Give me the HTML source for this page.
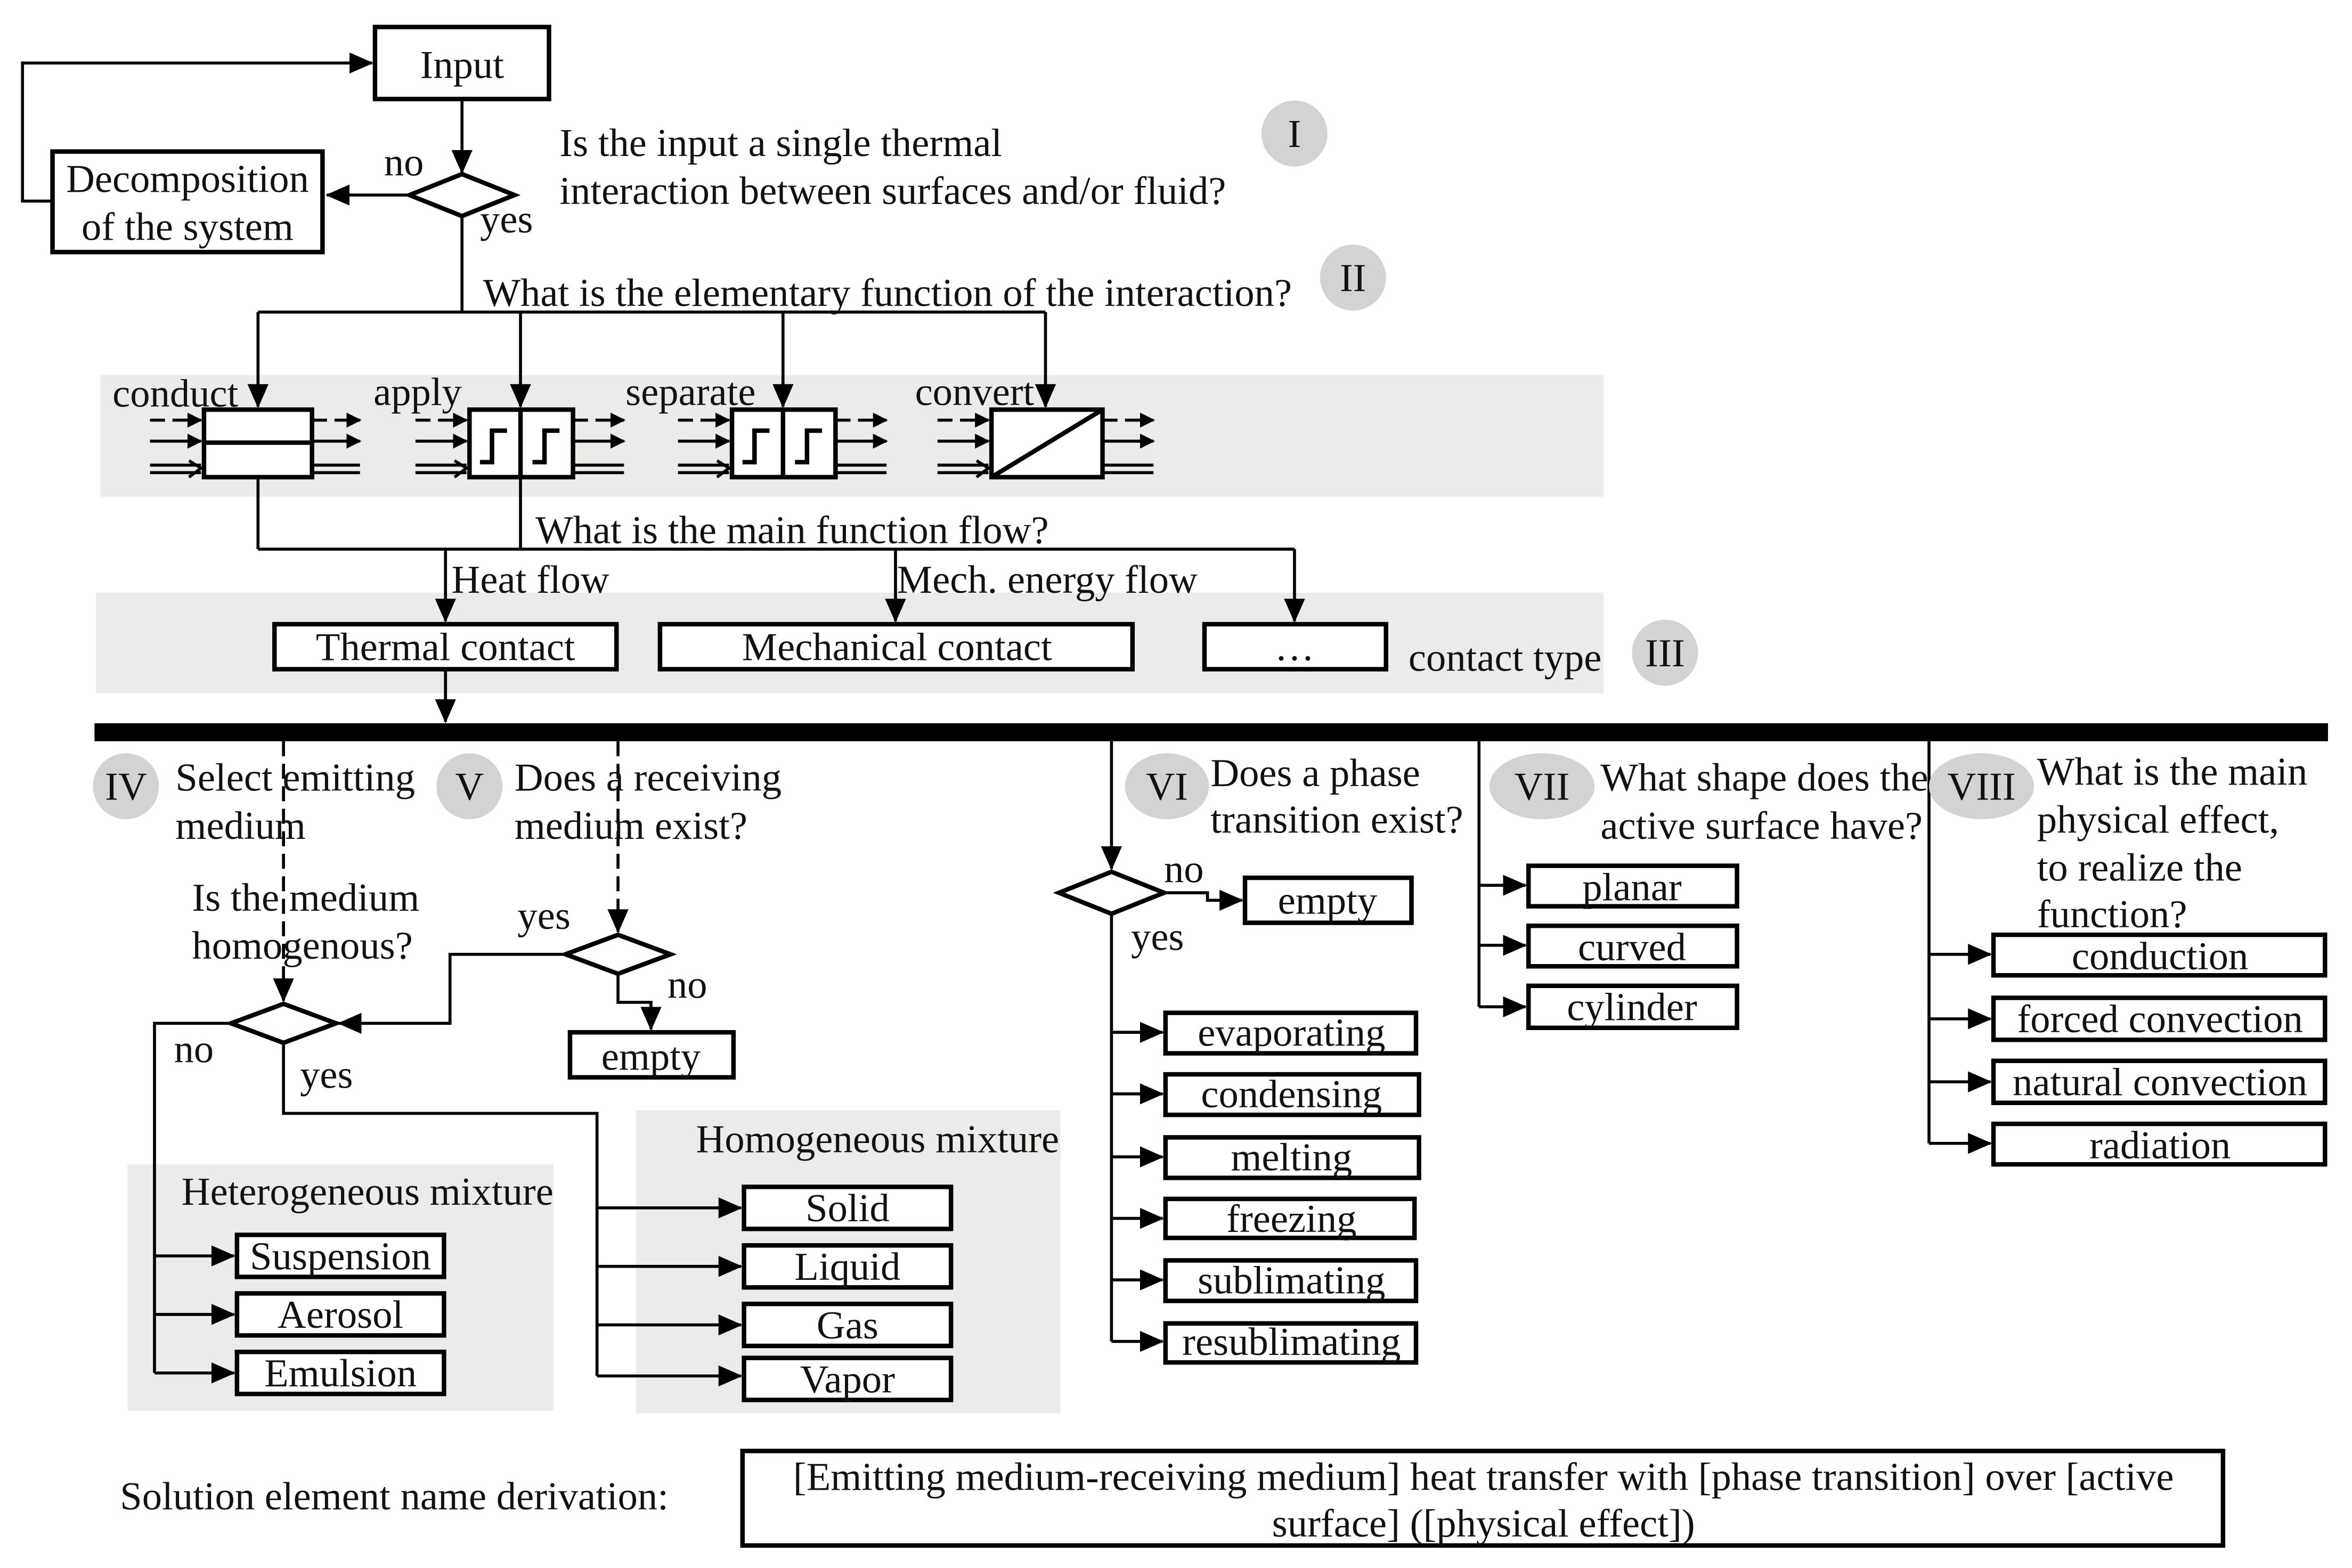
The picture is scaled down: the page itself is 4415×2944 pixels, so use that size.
<!DOCTYPE html>
<html><head><meta charset="utf-8"><style>
html,body{margin:0;padding:0;background:#fff;}
svg{display:block;}
text{font-family:"Liberation Serif",serif;font-size:26.5px;fill:#111;}
.b{fill:#fff;stroke:#000;stroke-width:3;}
.l{stroke:#000;stroke-width:2;fill:none;}
.d{stroke:#000;stroke-width:2;fill:none;stroke-dasharray:10,5;}
.c{fill:#d3d3d3;}
.g{fill:#ebebea;}
</style></head><body>
<svg width="4415" height="2944" viewBox="0 0 1568 1045" preserveAspectRatio="none" xmlns="http://www.w3.org/2000/svg">
<defs><marker id="a" markerWidth="10" markerHeight="10" refX="9" refY="5" orient="auto" markerUnits="userSpaceOnUse" viewBox="0 0 10 10"><path d="M0,0 L10,5 L0,10z" fill="#000"/></marker>
<marker id="s" markerWidth="16" markerHeight="14" refX="15" refY="7" orient="auto" markerUnits="userSpaceOnUse" viewBox="0 0 16 14"><path d="M0,0 L16,7 L0,14z" fill="#000"/></marker></defs>
<rect class="g" x="67" y="250" width="1002" height="81"/>
<rect class="g" x="64" y="395" width="1005" height="67"/>
<rect class="g" x="85" y="776" width="284" height="164"/>
<rect class="g" x="424" y="740" width="283" height="202"/>
<rect class="b" x="250" y="18" width="116" height="48"/>
<text x="308" y="52" text-anchor="middle">Input</text>
<path class="l" d="M308 66 V115" marker-end="url(#s)"/>
<path class="b" d="M273 130 L308 116 L343 130 L308 144z"/>
<path class="l" d="M273 130 H218" marker-end="url(#s)"/>
<text x="256" y="117">no</text>
<rect class="b" x="35" y="101" width="180" height="67"/>
<text x="125" y="128" text-anchor="middle">Decomposition</text>
<text x="125" y="160" text-anchor="middle">of the system</text>
<path class="l" d="M35 134 H15 V42 H248" marker-end="url(#s)"/>
<text x="320" y="155">yes</text>
<text x="373" y="104">Is the input a single thermal</text>
<text x="373" y="136">interaction between surfaces and/or fluid?</text>
<circle class="c" cx="863" cy="89" r="22"/><text x="863" y="98" text-anchor="middle">I</text>
<path class="l" d="M308 144 V208 M172 208 H697"/>
<path class="l" d="M172 208 V271" marker-end="url(#s)"/>
<path class="l" d="M347 208 V271" marker-end="url(#s)"/>
<path class="l" d="M522 208 V271" marker-end="url(#s)"/>
<path class="l" d="M697 208 V271" marker-end="url(#s)"/>
<text x="322" y="204">What is the elementary function of the interaction?</text>
<circle class="c" cx="902" cy="185" r="22"/><text x="902" y="194" text-anchor="middle">II</text>
<text x="75" y="271">conduct</text><text x="249" y="270">apply</text><text x="417" y="270">separate</text><text x="610" y="270">convert</text>
<g id="ar">
<path class="d" d="M100 280 H134" marker-end="url(#a)"/>
<path class="l" d="M100 294 H134" marker-end="url(#a)"/>
<path class="l" d="M100 310 H134 M100 315 H134" />
<path class="l" d="M126 307 L134 312 L126 318"/>
</g>
<rect class="b" x="136" y="273" width="72" height="45"/><path class="l" d="M136 295 H208" style="stroke-width:3"/>
<path class="d" d="M208 280 H240" marker-end="url(#a)"/><path class="l" d="M208 294 H240" marker-end="url(#a)"/><path class="l" d="M208 310 H240 M208 315 H240"/>
<g transform="translate(177,0)"><use href="#ar"/></g>
<rect class="b" x="313" y="273" width="69" height="45"/><path class="l" d="M347 273 V318" style="stroke-width:3"/>
<path class="l" d="M320 308 H328 V287 H338 M355 308 H363 V287 H373" style="stroke-width:3"/>
<path class="d" d="M382 280 H416" marker-end="url(#a)"/><path class="l" d="M382 294 H416" marker-end="url(#a)"/><path class="l" d="M382 310 H416 M382 315 H416"/>
<g transform="translate(352,0)"><use href="#ar"/></g>
<rect class="b" x="488" y="273" width="69" height="45"/><path class="l" d="M522 273 V318" style="stroke-width:3"/>
<path class="l" d="M495 308 H503 V287 H513 M530 308 H538 V287 H548" style="stroke-width:3"/>
<path class="d" d="M557 280 H591" marker-end="url(#a)"/><path class="l" d="M557 294 H591" marker-end="url(#a)"/><path class="l" d="M557 310 H591 M557 315 H591"/>
<g transform="translate(525,0)"><use href="#ar"/></g>
<rect class="b" x="661" y="273" width="74" height="45"/><path class="l" d="M661 318 L735 273" style="stroke-width:3"/>
<path class="d" d="M735 280 H769" marker-end="url(#a)"/><path class="l" d="M735 294 H769" marker-end="url(#a)"/><path class="l" d="M735 310 H769 M735 315 H769"/>
<path class="l" d="M172 318 V366 M347 318 V366 M172 366 H863"/>
<path class="l" d="M297 366 V414" marker-end="url(#s)"/>
<path class="l" d="M597 366 V414" marker-end="url(#s)"/>
<path class="l" d="M863 366 V414" marker-end="url(#s)"/>
<text x="357" y="362">What is the main function flow?</text>
<text x="301" y="395">Heat flow</text><text x="598" y="395">Mech. energy flow</text>
<rect class="b" x="183" y="416" width="228" height="30"/><text x="297" y="440" text-anchor="middle">Thermal contact</text>
<rect class="b" x="440" y="416" width="315" height="30"/><text x="598" y="440" text-anchor="middle">Mechanical contact</text>
<rect class="b" x="803" y="416" width="121" height="30"/><text x="863" y="440" text-anchor="middle">…</text>
<text x="939" y="447">contact type</text>
<circle class="c" cx="1110" cy="435" r="22"/><text x="1110" y="444" text-anchor="middle">III</text>
<path class="l" d="M297 446 V481" marker-end="url(#s)"/>
<rect x="63" y="482" width="1489" height="12" fill="#000"/>
<circle class="c" cx="84" cy="524" r="22"/><text x="84" y="533" text-anchor="middle">IV</text>
<path class="d" d="M189 494 V667" marker-end="url(#s)"/>
<text x="117" y="527">Select emitting</text><text x="117" y="559">medium</text>
<text x="128" y="607">Is the medium</text><text x="128" y="639">homogenous?</text>
<path class="b" d="M154 682 L189 669 L224 682 L189 695z"/>
<text x="116" y="708">no</text><text x="200" y="725">yes</text>
<circle class="c" cx="313" cy="524" r="22"/><text x="313" y="533" text-anchor="middle">V</text>
<path class="d" d="M412 494 V621" marker-end="url(#s)"/>
<text x="343" y="527">Does a receiving</text><text x="343" y="559">medium exist?</text>
<path class="b" d="M377 636 L412 623 L447 636 L412 649z"/>
<text x="345" y="619">yes</text><text x="445" y="665">no</text>
<path class="l" d="M377 636 H300 V682 H226" marker-end="url(#s)"/>
<path class="l" d="M412 649 V668 H434 V686" marker-end="url(#s)"/>
<rect class="b" x="380" y="688" width="109" height="30"/><text x="434" y="713" text-anchor="middle">empty</text>
<path class="l" d="M154 682 H103 V915"/>
<path class="l" d="M189 695 V742 H398 V917"/>
<text x="121" y="803">Heterogeneous mixture</text>
<text x="464" y="768">Homogeneous mixture</text>
<path class="l" d="M103 837 H156" marker-end="url(#s)"/><path class="l" d="M103 876 H156" marker-end="url(#s)"/><path class="l" d="M103 915 H156" marker-end="url(#s)"/>
<rect class="b" x="158" y="823" width="138" height="28"/><text x="227" y="846" text-anchor="middle">Suspension</text>
<rect class="b" x="158" y="862" width="138" height="28"/><text x="227" y="885" text-anchor="middle">Aerosol</text>
<rect class="b" x="158" y="901" width="138" height="28"/><text x="227" y="924" text-anchor="middle">Emulsion</text>
<path class="l" d="M398 805 H494" marker-end="url(#s)"/><path class="l" d="M398 844 H494" marker-end="url(#s)"/><path class="l" d="M398 883 H494" marker-end="url(#s)"/><path class="l" d="M398 917 H494" marker-end="url(#s)"/>
<rect class="b" x="496" y="791" width="138" height="28"/><text x="565" y="814" text-anchor="middle">Solid</text>
<rect class="b" x="496" y="830" width="138" height="28"/><text x="565" y="853" text-anchor="middle">Liquid</text>
<rect class="b" x="496" y="869" width="138" height="28"/><text x="565" y="892" text-anchor="middle">Gas</text>
<rect class="b" x="496" y="905" width="138" height="28"/><text x="565" y="928" text-anchor="middle">Vapor</text>
<ellipse class="c" cx="778" cy="524" rx="28" ry="22"/><text x="778" y="533" text-anchor="middle">VI</text>
<text x="807" y="524">Does a phase</text><text x="807" y="555">transition exist?</text>
<path class="l" d="M741 494 V579" marker-end="url(#s)"/>
<path class="b" d="M706 595 L741 581 L776 595 L741 609z"/>
<text x="776" y="588">no</text><text x="754" y="633">yes</text>
<path class="l" d="M776 595 H805 V600 H828" marker-end="url(#s)"/>
<rect class="b" x="830" y="585" width="111" height="30"/><text x="885" y="609" text-anchor="middle">empty</text>
<path class="l" d="M741 609 V894"/>
<path class="l" d="M741 688 H775" marker-end="url(#s)"/><path class="l" d="M741 729 H775" marker-end="url(#s)"/><path class="l" d="M741 771 H775" marker-end="url(#s)"/><path class="l" d="M741 812 H775" marker-end="url(#s)"/><path class="l" d="M741 853 H775" marker-end="url(#s)"/><path class="l" d="M741 894 H775" marker-end="url(#s)"/>
<rect class="b" x="777" y="675" width="167" height="27"/><text x="861" y="697" text-anchor="middle">evaporating</text>
<rect class="b" x="777" y="716" width="169" height="27"/><text x="861" y="738" text-anchor="middle">condensing</text>
<rect class="b" x="777" y="758" width="169" height="27"/><text x="861" y="780" text-anchor="middle">melting</text>
<rect class="b" x="777" y="799" width="166" height="26"/><text x="861" y="821" text-anchor="middle">freezing</text>
<rect class="b" x="777" y="840" width="167" height="27"/><text x="861" y="862" text-anchor="middle">sublimating</text>
<rect class="b" x="777" y="882" width="167" height="26"/><text x="861" y="903" text-anchor="middle">resublimating</text>
<path class="l" d="M986 494 V671"/>
<ellipse class="c" cx="1028" cy="524" rx="35" ry="22"/><text x="1028" y="533" text-anchor="middle">VII</text>
<text x="1067" y="527">What shape does the</text><text x="1067" y="559">active surface have?</text>
<path class="l" d="M986 590 H1017" marker-end="url(#s)"/><path class="l" d="M986 630 H1017" marker-end="url(#s)"/><path class="l" d="M986 671 H1017" marker-end="url(#s)"/>
<rect class="b" x="1019" y="577" width="139" height="27"/><text x="1088" y="600" text-anchor="middle">planar</text>
<rect class="b" x="1019" y="617" width="139" height="27"/><text x="1088" y="640" text-anchor="middle">curved</text>
<rect class="b" x="1019" y="657" width="139" height="28"/><text x="1088" y="680" text-anchor="middle">cylinder</text>
<path class="l" d="M1286 494 V762"/>
<ellipse class="c" cx="1321" cy="524" rx="35" ry="22"/><text x="1321" y="533" text-anchor="middle">VIII</text>
<text x="1358" y="523">What is the main</text><text x="1358" y="555">physical effect,</text><text x="1358" y="587">to realize the</text><text x="1358" y="618">function?</text>
<path class="l" d="M1286 636 H1327" marker-end="url(#s)"/><path class="l" d="M1286 679 H1327" marker-end="url(#s)"/><path class="l" d="M1286 721 H1327" marker-end="url(#s)"/><path class="l" d="M1286 762 H1327" marker-end="url(#s)"/>
<rect class="b" x="1329" y="623" width="221" height="27"/><text x="1440" y="646" text-anchor="middle">conduction</text>
<rect class="b" x="1329" y="665" width="221" height="28"/><text x="1440" y="688" text-anchor="middle">forced convection</text>
<rect class="b" x="1329" y="707" width="221" height="28"/><text x="1440" y="730" text-anchor="middle">natural convection</text>
<rect class="b" x="1329" y="749" width="221" height="27"/><text x="1440" y="772" text-anchor="middle">radiation</text>
<text x="80" y="1006">Solution element name derivation:</text>
<rect class="b" x="495" y="967" width="987" height="63"/>
<text x="989" y="993" text-anchor="middle">[Emitting medium-receiving medium] heat transfer with [phase transition] over [active</text>
<text x="989" y="1024" text-anchor="middle">surface] ([physical effect])</text>
</svg>
</body></html>
